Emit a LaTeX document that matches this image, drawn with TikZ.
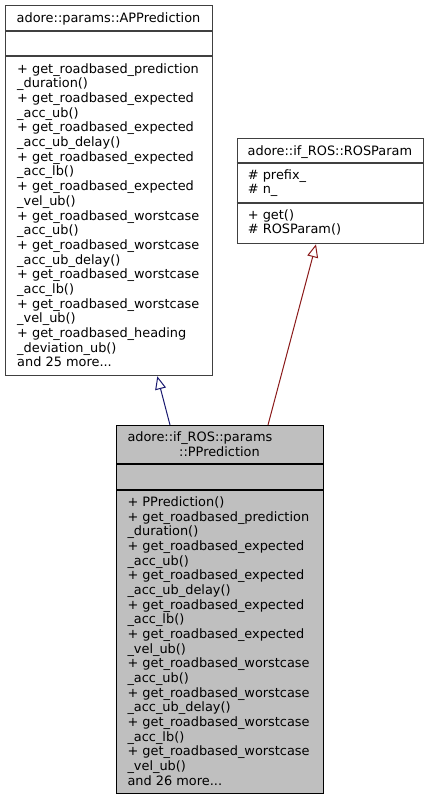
\documentclass[tikz,border=0pt]{standalone}
\usepackage{fontspec}
\setmainfont{DejaVu Sans}
\usetikzlibrary{arrows.meta,calc}
\definecolor{edgeblue}{HTML}{191970}
\definecolor{edgered}{HTML}{8B1A1A}
\definecolor{boxgray}{HTML}{404040}
\definecolor{fillgray}{HTML}{BFBFBF}
\newcommand{\mylines}[1]{\parbox[t]{200pt}{\raggedright\fontsize{12.9}{14.67}\selectfont #1}}
\begin{document}
\begin{tikzpicture}[x=1pt,y=-1pt,
  classbox/.style={draw=boxgray, line width=1.3pt, fill=white, rectangle, inner sep=0pt, anchor=north west},
  mainbox/.style={draw=black, line width=1.3pt, fill=fillgray, rectangle, inner sep=0pt, anchor=north west},
  sep/.style={line width=1.3pt},
  txt/.style={inner sep=0pt, anchor=base west, font=\fontsize{12.9}{14.67}\selectfont},
  ttl/.style={inner sep=0pt, anchor=base, font=\fontsize{12.9}{14.67}\selectfont},
  inherit/.style={line width=1pt, -{Triangle[open, length=13pt, width=11pt, line width=1pt]}}
]
\useasboundingbox (0,0) rectangle (429,800);
\fill[white] (0,0) rectangle (429,800);

% APPrediction
\node[classbox, minimum width=207pt, minimum height=370pt] (ap) at (5,5) {};
\draw[sep, boxgray] (5,31) -- (212,31);
\draw[sep, boxgray] (5,56) -- (212,56);
\node[ttl] (apt) at (108.5,22.5) {adore::params::APPrediction};
\node[txt] (apm) at (17,73.3) {\mylines{%
+ get\_roadbased\_prediction\\
\_duration()\\
+ get\_roadbased\_expected\\
\_acc\_ub()\\
+ get\_roadbased\_expected\\
\_acc\_ub\_delay()\\
+ get\_roadbased\_expected\\
\_acc\_lb()\\
+ get\_roadbased\_expected\\
\_vel\_ub()\\
+ get\_roadbased\_worstcase\\
\_acc\_ub()\\
+ get\_roadbased\_worstcase\\
\_acc\_ub\_delay()\\
+ get\_roadbased\_worstcase\\
\_acc\_lb()\\
+ get\_roadbased\_worstcase\\
\_vel\_ub()\\
+ get\_roadbased\_heading\\
\_deviation\_ub()\\
and 25 more...}};

% ROSParam
\node[classbox, minimum width=186.3pt, minimum height=105pt] (rp) at (236.7,138) {};
\draw[sep, boxgray] (236.7,163) -- (423,163);
\draw[sep, boxgray] (236.7,203) -- (423,203);
\node[ttl] (rpt) at (329.85,155.5) {adore::if\_ROS::ROSParam};
\node[txt] (rpa) at (247.7,179) {\mylines{\# prefix\_\\\# n\_}};
\node[txt] (rpm) at (247.7,219) {\mylines{+ get()\\\# ROSParam()}};

% PPrediction
\node[mainbox, minimum width=207pt, minimum height=368pt] (pp) at (116,425) {};
\draw[sep] (116,464) -- (323,464);
\draw[sep] (116,490) -- (323,490);
\node[txt] (ppt1) at (127.3,441) {adore::if\_ROS::params};
\node[ttl] (ppt2) at (219.5,456) {::PPrediction};
\node[txt] (ppm) at (127.3,506.5) {\mylines{%
+ PPrediction()\\
+ get\_roadbased\_prediction\\
\_duration()\\
+ get\_roadbased\_expected\\
\_acc\_ub()\\
+ get\_roadbased\_expected\\
\_acc\_ub\_delay()\\
+ get\_roadbased\_expected\\
\_acc\_lb()\\
+ get\_roadbased\_expected\\
\_vel\_ub()\\
+ get\_roadbased\_worstcase\\
\_acc\_ub()\\
+ get\_roadbased\_worstcase\\
\_acc\_ub\_delay()\\
+ get\_roadbased\_worstcase\\
\_acc\_lb()\\
+ get\_roadbased\_worstcase\\
\_vel\_ub()\\
and 26 more...}};

% edges
\coordinate (e1s) at ($(pp.north west)+(54,0)$);
\coordinate (e1t) at ($(ap.south west)+(152.3,0)$);
\coordinate (e2s) at ($(pp.north west)+(152,0)$);
\coordinate (e2t) at ($(rp.south west)+(79.3,0)$);
\draw[inherit, edgeblue] (e1s) -- (e1t);
\draw[inherit, edgered] (e2s) -- (e2t);
\end{tikzpicture}
\end{document}
